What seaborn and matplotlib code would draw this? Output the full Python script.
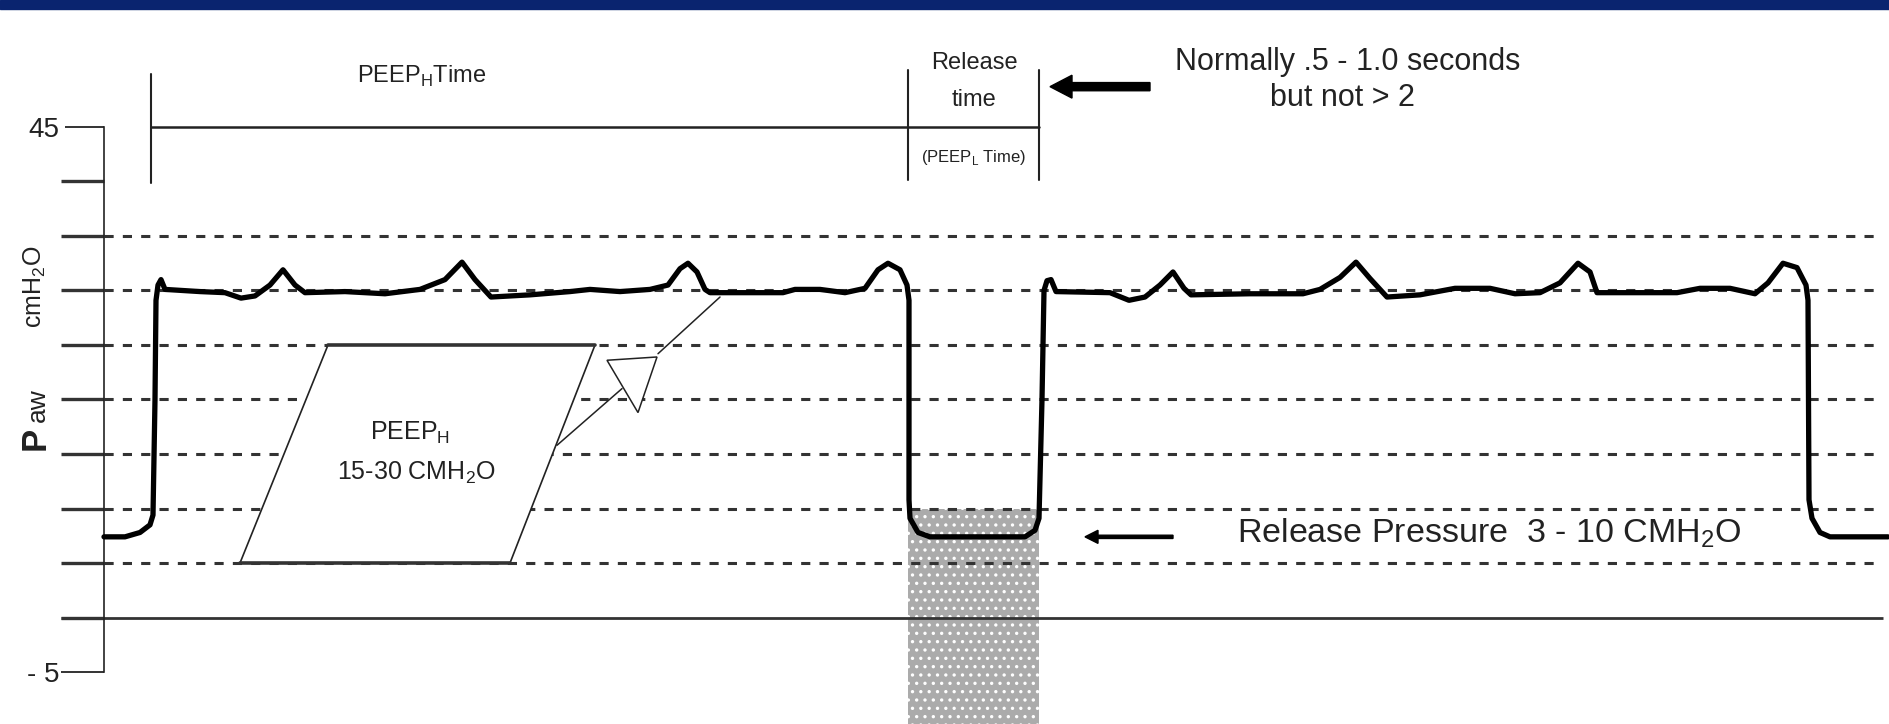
import matplotlib
matplotlib.use("Agg")
import matplotlib.pyplot as plt
import seaborn as sns
import pandas as pd
from matplotlib.patches import Polygon, Rectangle

# ---------------- data ----------------
time_s = [0.00, 0.21, 0.36, 0.46, 0.49, 0.51, 0.52, 0.54, 0.57, 0.61, 0.96, 1.21, 1.37, 1.51,
          1.66, 1.79, 1.91, 2.01, 2.41, 2.81, 3.16, 3.41, 3.58, 3.71, 3.87, 4.26, 4.66, 4.86,
          5.16, 5.46, 5.64, 5.76, 5.84, 5.93, 6.01, 6.06, 6.79, 6.91, 7.16, 7.41, 7.61, 7.74,
          7.84, 7.96, 8.03, 8.05, 8.05, 8.06, 8.14, 8.26, 9.21, 9.31, 9.35, 9.38, 9.40, 9.43,
          9.47, 9.52, 10.06, 10.25, 10.41, 10.56, 10.69, 10.80, 10.87, 11.46, 11.99, 12.16,
          12.36, 12.52, 12.66, 12.83, 13.16, 13.51, 13.86, 14.11, 14.36, 14.56, 14.74, 14.86,
          14.93, 15.73, 15.96, 16.26, 16.51, 16.64, 16.79, 16.93, 17.02, 17.04, 17.05, 17.08,
          17.16, 17.26, 17.84]
paw = [7.4, 7.4, 7.8, 8.5, 9.4, 20.0, 29.1, 30.5, 31.0, 30.1, 29.9, 29.8, 29.3, 29.5,
       30.5, 31.9, 30.5, 29.8, 29.9, 29.7, 30.1, 31.0, 32.6, 31.0, 29.4, 29.6, 29.9, 30.1,
       29.9, 30.1, 30.5, 32.0, 32.5, 31.7, 30.1, 29.8, 29.8, 30.1, 30.1, 29.8, 30.2, 31.9,
       32.5, 31.9, 30.5, 29.1, 10.8, 9.1, 7.8, 7.4, 7.4, 8.0, 9.1, 20.0, 30.0, 30.9,
       31.0, 29.9, 29.8, 29.1, 29.4, 30.5, 31.7, 30.2, 29.6, 29.7, 29.7, 30.1,
       31.2, 32.6, 31.1, 29.4, 29.6, 30.2, 30.2, 29.7, 29.8, 30.7, 32.5, 31.7,
       29.8, 29.8, 30.2, 30.2, 29.7, 30.7, 32.5, 32.1, 30.5, 29.1, 10.8, 9.1,
       7.8, 7.4, 7.4]

ytick_values = [45, 40, 35, 30, 25, 20, 15, 10, 5, 0, -5]
ytick_labels = ["45", "", "", "", "", "", "", "", "", "", "- 5"]
dashed_levels = [35, 30, 25, 20, 15, 10, 5]
baseline_level = 0
release_start, release_end = 8.04, 9.35
release_pressure_top = 10
peep_h_range = (5, 25)

df = pd.DataFrame({"time": time_s, "paw": paw})

# ---------------- style ----------------
sns.set_style("white")
plt.rcParams["font.family"] = ["Liberation Sans", "DejaVu Sans"]
plt.rcParams["hatch.linewidth"] = 1.2

fig = plt.figure(figsize=(18.9, 7.24), dpi=100)
ax = fig.add_axes([0, 0, 1, 1])
ax.set_xlim(-1.04, 17.86)
ax.set_ylim(-9.77, 56.65)

# top navy bar
fig.add_artist(Rectangle((0, 1 - 9 / 724), 1, 9 / 724, transform=fig.transFigure,
                         color="#0a246f", zorder=20))

# grid lines
ax.hlines(dashed_levels, 0, 17.71, colors="#333333", linewidth=2.2,
          linestyles=(0, (3, 3)), zorder=2)
ax.hlines([baseline_level], -0.43, 17.79, colors="#333333", linewidth=2.0, zorder=2)

# shaded release region
ax.fill_between([release_start, release_end], -9.77, release_pressure_top,
                facecolor="#ababab", edgecolor="white", hatch="..", linewidth=0, zorder=1)

# PEEP-high parallelogram
para = Polygon([(1.36, peep_h_range[0]), (4.06, peep_h_range[0]),
                (4.91, peep_h_range[1]), (2.24, peep_h_range[1])],
               closed=True, facecolor="white", edgecolor="#222222", lw=1.2, zorder=3)
ax.add_patch(para)
ax.plot([1.36, 4.06], [peep_h_range[0]] * 2, color="#333333", lw=2.6, zorder=3.5)
ax.plot([2.24, 4.91], [peep_h_range[1]] * 2, color="#333333", lw=2.6, zorder=3.5)
ax.text(3.06, 16.9, r"PEEP$_\mathregular{H}$", ha="center", va="center", fontsize=18, color="#222222", zorder=5)
ax.text(3.12, 13.3, r"15-30 CMH$_\mathregular{2}$O", ha="center", va="center", fontsize=18, color="#222222", zorder=5)

# callout arrow (hollow head)
ax.plot([4.53, 5.18], [15.8, 21.0], color="#222222", lw=1.1, zorder=3.6)
ax.plot([5.54, 6.16], [24.2, 29.4], color="#222222", lw=1.1, zorder=3.6)
ax.add_patch(Polygon([(5.03, 23.6), (5.53, 23.9), (5.34, 18.8)], closed=True,
                     facecolor="white", edgecolor="#222222", lw=1.1, zorder=3.7))

# waveform
sns.lineplot(data=df, x="time", y="paw", sort=False, color="black", linewidth=3.8,
             ax=ax, zorder=4, estimator=None)

# axis styling
for s in ["top", "right", "bottom"]:
    ax.spines[s].set_visible(False)
ax.spines["left"].set_position(("data", 0))
ax.spines["left"].set_bounds(-5, 45)
ax.spines["left"].set_linewidth(1.2)
ax.spines["left"].set_color("#222222")
ax.set_xticks([])
ax.set_yticks(ytick_values)
ax.set_yticklabels(ytick_labels)
ax.tick_params(axis="y", direction="out", length=31, width=2.4, color="#333333",
               labelsize=20, pad=1, labelcolor="#222222")
ax.yaxis.set_ticks_position("left")
ticks = ax.yaxis.get_major_ticks()
ticks[0].tick1line.set_markeredgewidth(1.4)
ticks[0].tick1line.set_markersize(28)
ticks[-1].tick1line.set_markeredgewidth(1.4)
ax.set_xlabel("")
ax.set_ylabel("")

# y label
ax.text(-0.59, 15.4, "P", rotation=90, rotation_mode="anchor", ha="left", va="baseline",
        fontsize=25, fontweight="bold", color="#222222")
ax.text(-0.59, 17.9, "aw", rotation=90, rotation_mode="anchor", ha="left", va="baseline",
        fontsize=19, color="#222222")
ax.text(-0.62, 26.6, r"cmH$_\mathregular{2}$O", rotation=90, rotation_mode="anchor",
        ha="left", va="baseline", fontsize=18, color="#222222")

# timing bars
ax.plot([0.47, 0.47], [39.9, 49.9], color="#222222", lw=1.5)
ax.plot([0.47, 9.35], [45.0, 45.0], color="#222222", lw=1.8)
ax.plot([release_start, release_start], [40.1, 50.2], color="#222222", lw=1.5)
ax.plot([release_end, release_end], [40.1, 50.2], color="#222222", lw=1.5)
ax.text(3.18, 49.6, r"PEEP$_\mathregular{H}$Time", ha="center", va="center", fontsize=17, color="#222222")
ax.text(8.70, 50.9, "Release", ha="center", va="center", fontsize=17, color="#222222")
ax.text(8.70, 47.5, "time", ha="center", va="center", fontsize=17, color="#222222")
ax.text(8.70, 42.2, r"(PEEP$_\mathregular{L}$ Time)", ha="center", va="center", fontsize=12, color="#222222")

# arrows and notes
ax.arrow(10.46, 48.7, -1.0, 0, width=0.75, head_width=2.1, head_length=0.22,
         length_includes_head=True, color="black", zorder=5)
ax.text(12.44, 51.0, "Normally .5 - 1.0 seconds", ha="center", va="center", fontsize=22, color="#222222")
ax.text(12.38, 47.7, "but not > 2", ha="center", va="center", fontsize=22, color="#222222")

ax.arrow(10.69, 7.4, -0.88, 0, width=0.3, head_width=1.2, head_length=0.13,
         length_includes_head=True, color="black", zorder=5)
ax.text(11.33, 7.75, r"Release Pressure  3 - 10 CMH$_\mathregular{2}$O", ha="left", va="center",
        fontsize=24.5, color="#222222")

fig.savefig("out.png", dpi=100)
